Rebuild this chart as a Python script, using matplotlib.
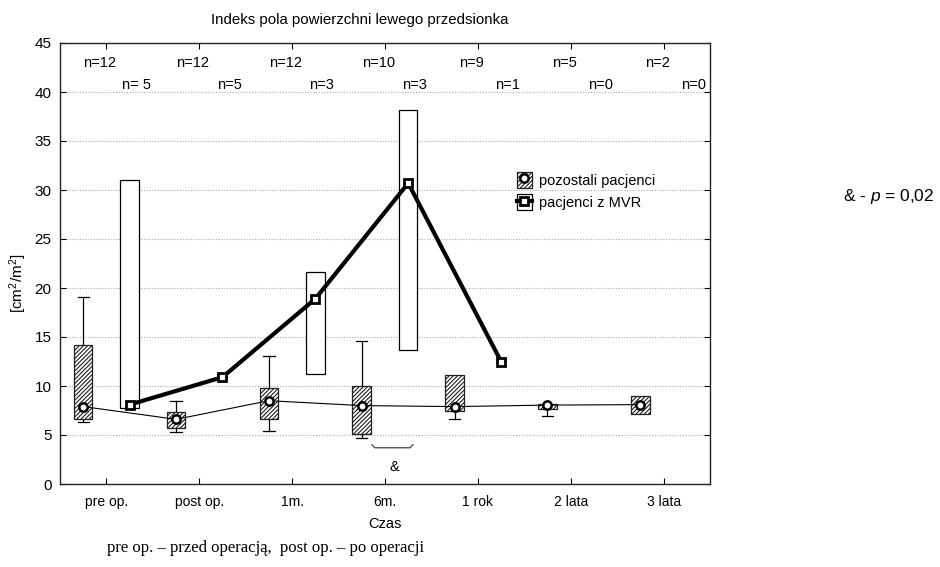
import numpy as np
import matplotlib
matplotlib.use("Agg")
import matplotlib.pyplot as plt
from matplotlib.patches import Rectangle, Patch
from matplotlib.lines import Line2D
from matplotlib.legend_handler import HandlerTuple

plt.rcParams['font.family'] = ['Liberation Sans', 'DejaVu Sans']
plt.rcParams['hatch.linewidth'] = 0.8
plt.rcParams['mathtext.fontset'] = 'custom'
plt.rcParams['mathtext.it'] = 'Liberation Sans:italic'
plt.rcParams['mathtext.rm'] = 'Liberation Sans'

nan = np.nan
categories = ['pre op.', 'post op.', '1m.', '6m.', '1 rok', '2 lata', '3 lata']
n_other = [12, 12, 12, 10, 9, 5, 2]
n_mvr = [' 5', '5', '3', '3', '1', '0', '0']

other_center = [7.9, 6.6, 8.5, 8.0, 7.9, 8.05, 8.1]
other_box_lo = [6.6, 5.75, 6.6, 5.15, 7.4, 7.65, 7.1]
other_box_hi = [14.2, 7.3, 9.75, 10.05, 11.1, 8.2, 9.0]
other_wh_lo = [6.3, 5.3, 5.4, 4.65, 6.6, 6.9, 7.1]
other_wh_hi = [19.1, 8.5, 13.1, 14.6, 11.1, 8.2, 9.0]

mvr_center = [8.1, 10.9, 18.9, 30.7, 12.5, nan, nan]
mvr_box_lo = [7.8, nan, 11.2, 13.7, nan, nan, nan]
mvr_box_hi = [31.0, nan, 21.6, 38.2, nan, nan, nan]

sig_bracket_x = [2.86, 2.89, 3.27, 3.30]
sig_bracket_y = [4.0, 3.7, 3.7, 4.0]

W, H = 940, 567
fig = plt.figure(figsize=(W / 100, H / 100), dpi=100)
ax = fig.add_axes([60 / W, 1 - 484 / H, 650 / W, 441 / H])

x = np.arange(len(categories))
off = 0.25
bw = 0.2
cap = 0.06
HATCH = '////////'

# other patients boxes (hatched)
for i in range(len(categories)):
    xo = x[i] - off
    ax.plot([xo, xo], [other_box_hi[i], other_wh_hi[i]], color='black', lw=0.9, zorder=2)
    ax.plot([xo, xo], [other_wh_lo[i], other_box_lo[i]], color='black', lw=0.9, zorder=2)
    if other_wh_hi[i] > other_box_hi[i]:
        ax.plot([xo - cap, xo + cap], [other_wh_hi[i]] * 2, color='black', lw=0.9, zorder=2)
    if other_wh_lo[i] < other_box_lo[i]:
        ax.plot([xo - cap, xo + cap], [other_wh_lo[i]] * 2, color='black', lw=0.9, zorder=2)
    r = Rectangle((xo - bw / 2, other_box_lo[i]), bw, other_box_hi[i] - other_box_lo[i],
                  facecolor='white', edgecolor='#202020', hatch=HATCH, lw=0.9, zorder=3)
    ax.add_patch(r)

# MVR boxes
for i in range(len(categories)):
    if not np.isnan(mvr_box_lo[i]):
        xm = x[i] + off
        r = Rectangle((xm - bw / 2, mvr_box_lo[i]), bw, mvr_box_hi[i] - mvr_box_lo[i],
                      facecolor='white', edgecolor='black', lw=0.9, zorder=3)
        ax.add_patch(r)

ax.plot(x - off, other_center, color='black', lw=0.8, marker='o', ms=6, mfc='white',
        mec='black', mew=1.8, zorder=5)
ax.plot(x + off, mvr_center, color='black', lw=3.0, marker='s', ms=6, mfc='white',
        mec='black', mew=2.0, zorder=6)

# n labels
for i in range(len(categories)):
    ax.text(x[i] - 0.07, 43.0, f"n={n_other[i]}", ha='center', va='center', fontsize=10.5)
    ax.text(x[i] + 0.32, 40.7, f"n={n_mvr[i]}", ha='center', va='center', fontsize=10.5)

# significance bracket
ax.plot(sig_bracket_x, sig_bracket_y, color='#555555', lw=1.0, zorder=2)
ax.text(3.10, 1.7, '&', ha='center', va='center', fontsize=10.5)

ax.set_xlim(-0.5, 6.5)
ax.set_ylim(0, 45)
ax.set_yticks(np.arange(0, 46, 5))
ax.set_xticks(x)
ax.set_xticklabels(categories, fontsize=10)
ax.tick_params(axis='y', labelsize=11, direction='in', length=4, right=True, pad=6)
ax.tick_params(axis='x', direction='in', length=4, top=True, pad=8)
for yv in range(5, 45, 5):
    ax.axhline(yv, color='#aaaaaa', lw=0.8, ls=(0, (1, 1.5)), zorder=0)
for s in ax.spines.values():
    s.set_linewidth(1.0)
    s.set_color('#222222')

ax.set_xlabel('Czas', fontsize=10.5, labelpad=6)
fig.text(18 / W, 1 - 283 / H, '[cm$^2$/m$^2$]', rotation=90, ha='center', va='center', fontsize=11)
fig.text(360 / W, 1 - 20 / H, 'Indeks pola powierzchni lewego przedsionka', ha='center', va='center', fontsize=10.8)
fig.text(889 / W, 1 - 197 / H, '& - $\\mathit{p}$ = 0,02', ha='center', va='center', fontsize=12.5)
fig.text(107 / W, 1 - 548 / H, 'pre op. – przed operacją,  post op. – po operacji',
         ha='left', va='center', fontsize=12, family=['Liberation Serif', 'DejaVu Serif'])

h1 = (Patch(facecolor='white', edgecolor='#202020', hatch=HATCH, lw=0.9),
      Line2D([], [], color='none', marker='o', ms=6, mfc='white', mec='black', mew=1.8))
h2 = (Patch(facecolor='white', edgecolor='black', lw=0.9),
      Line2D([], [], color='black', lw=3.0, marker='s', ms=6, mfc='white', mec='black', mew=2.0))
ax.legend([h1, h2], ['pozostali pacjenci', 'pacjenci z MVR'],
          handler_map={tuple: HandlerTuple(ndivide=1)},
          loc='upper left', bbox_to_anchor=((517 - 60) / 650, 1 - (172 - 43) / 441),
          frameon=False, fontsize=10.5, handlelength=1.0, handleheight=1.3,
          handletextpad=0.5, labelspacing=0.45, borderpad=0, borderaxespad=0)

fig.savefig('out.png', dpi=100)
